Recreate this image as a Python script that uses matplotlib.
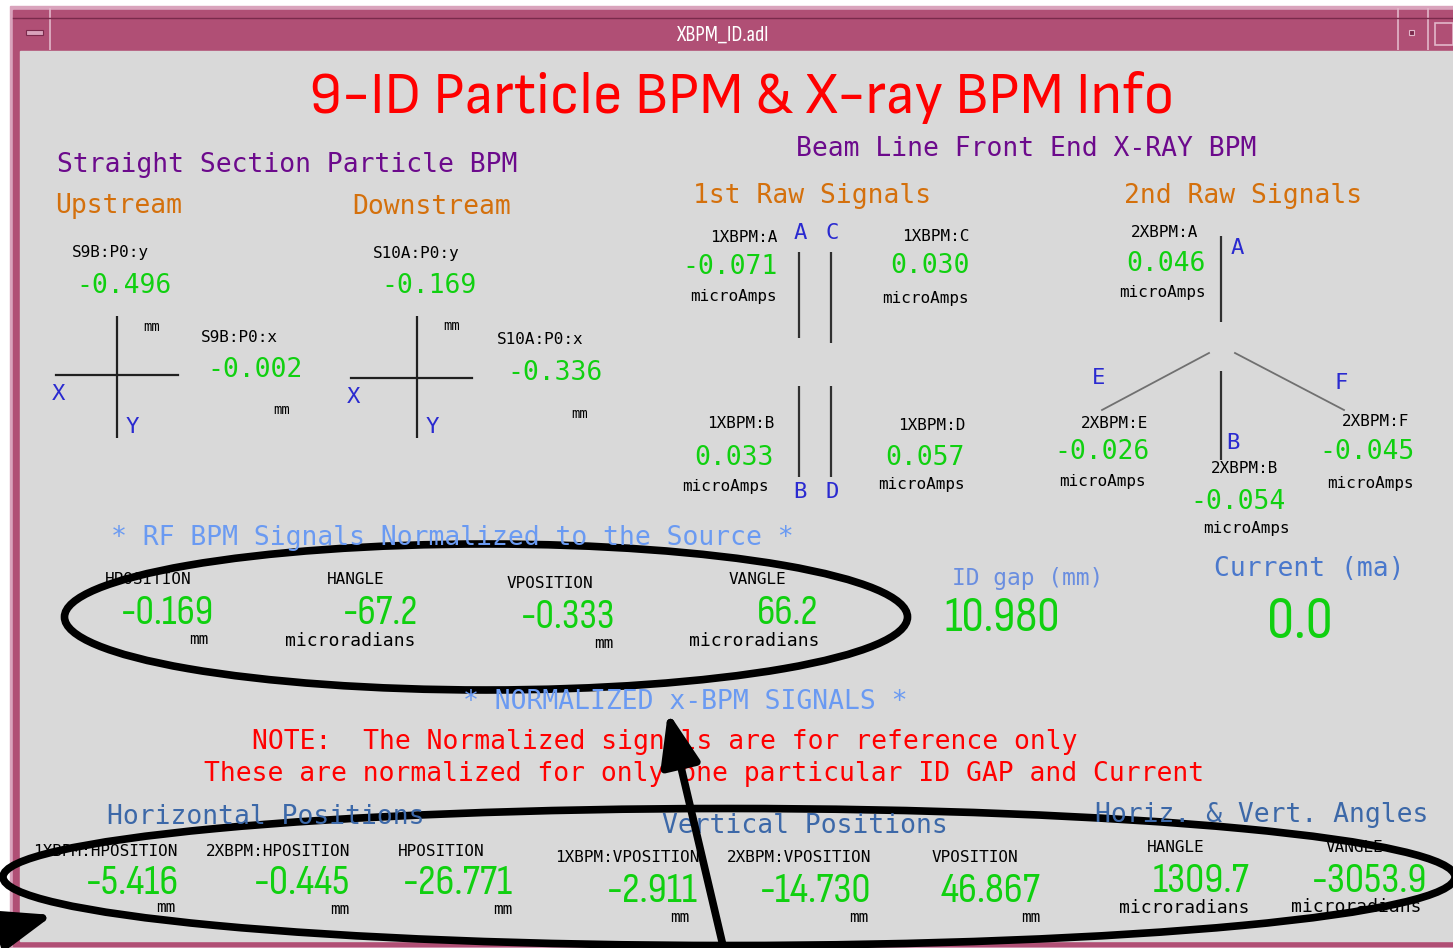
import matplotlib
matplotlib.use("Agg")
import matplotlib.pyplot as plt
from matplotlib.patches import Rectangle, Ellipse

# ---- values shown on the screen ----
particle_labels = ["S9B:P0:y", "S9B:P0:x", "S10A:P0:y", "S10A:P0:x"]
particle_values = [-0.496, -0.002, -0.169, -0.336]

xbpm1_labels = ["1XBPM:A", "1XBPM:C", "1XBPM:B", "1XBPM:D"]
xbpm1_values = [-0.071, 0.030, 0.033, 0.057]

xbpm2_labels = ["2XBPM:A", "2XBPM:E", "2XBPM:B", "2XBPM:F"]
xbpm2_values = [0.046, -0.026, -0.054, -0.045]

rf_labels = ["HPOSITION", "HANGLE", "VPOSITION", "VANGLE"]
rf_values = [-0.169, -67.2, -0.333, 66.2]
rf_units = ["mm", "microradians", "mm", "microradians"]

id_gap = 10.980
current = 0.0

norm_labels = ["1XBPM:HPOSITION", "2XBPM:HPOSITION", "HPOSITION",
               "1XBPM:VPOSITION", "2XBPM:VPOSITION", "VPOSITION",
               "HANGLE", "VANGLE"]
norm_values = [-5.416, -0.445, -26.771, -2.911, -14.730, 46.867, 1309.7, -3053.9]
norm_units = ["mm", "mm", "mm", "mm", "mm", "mm", "microradians", "microradians"]

GRAY = '#d9d9d9'
GREEN = '#10d010'
BLUE = '#2a2ad0'
PURPLE = '#6c0a8c'
ORANGE = '#d4700c'
LBLUE = '#6a9af2'
SBLUE = '#3c68a8'
MONO = 'DejaVu Sans Mono'
NARROW = ['Sofia Sans Condensed', 'DejaVu Sans']

fig = plt.figure(figsize=(14.53, 9.48), dpi=100)
ax = fig.add_axes([0, 0, 1, 1])
ax.set_xlim(0, 1453)
ax.set_ylim(948, 0)
ax.axis('off')


def txt(x, y, s, color='black', size=11.5, ha='left', family=MONO, **kw):
    ax.text(x, y, s, color=color, fontsize=size, ha=ha, va='center', family=family, **kw)


def vline(x, y0, y1, color='#303030', lw=1.6):
    ax.plot([x, x], [y0, y1], color=color, lw=lw, solid_capstyle='butt')


# window frame
ax.add_patch(Rectangle((10, 6), 1443, 942, color='#d9a3bc'))
ax.add_patch(Rectangle((13, 10), 1440, 936, color='#b04f75'))
ax.add_patch(Rectangle((20, 51), 1433, 890, color=GRAY))
for x in (50, 1398, 1428):
    vline(x, 8, 50, color='#e2b7ca', lw=1.2)
ax.plot([13, 1453], [18, 18], color='#7a2a4c', lw=1)
ax.add_patch(Rectangle((26, 30), 17, 5, facecolor='#d9a3bc', edgecolor='#7a2a4c', lw=0.8))
ax.add_patch(Rectangle((1409, 30), 5, 5, facecolor='#7a2a4c', edgecolor='#e2b7ca', lw=0.8))
ax.add_patch(Rectangle((1435, 23), 18, 22, facecolor='none', edgecolor='#e2b7ca', lw=1.2))
txt(722, 35, "XBPM_ID.adl", color='white', size=16, ha='center', family=NARROW)

# title
txt(742, 97, "9-ID Particle BPM & X-ray BPM Info", color='red', size=43.5, ha='center',
    family=['Sofia Sans Semi Condensed', 'DejaVu Sans'])

# straight section particle BPM
txt(57, 165, "Straight Section Particle BPM", color=PURPLE, size=19)
txt(55, 206, "Upstream", color=ORANGE, size=19)
txt(352, 207, "Downstream", color=ORANGE, size=19)

cross = [(117, 375, 56, 178), (417, 378, 351, 472)]
for i, (cx, cy, x0, x1) in enumerate(cross):
    ax.plot([x0, x1], [cy, cy], color='#202020', lw=1.6)
    vline(cx, 316, 438, color='#202020')
    txt(cx + 26, 327 - i, "mm", size=10)
    txt(x0 - 4, cy + 19, "X", color=BLUE, size=16)
    txt(cx + 9, 427, "Y", color=BLUE, size=16)

p_lab_pos = [(72, 252), (201, 338), (373, 253), (497, 339)]
p_val_pos = [(76, 286), (207, 370), (381, 286), (507, 373)]
p_mm_pos = [None, (273, 410), None, (571, 414)]
for lab, v, lp, vp, mp in zip(particle_labels, particle_values, p_lab_pos, p_val_pos, p_mm_pos):
    txt(lp[0], lp[1], lab, size=11.5)
    txt(vp[0], vp[1], f"{v:.3f}", color=GREEN, size=19)
    if mp:
        txt(mp[0], mp[1], "mm", size=10)

# x-ray BPM front end
txt(1026, 149, "Beam Line Front End X-RAY BPM", color=PURPLE, size=19, ha='center')
txt(812, 196, "1st Raw Signals", color=ORANGE, size=19, ha='center')
txt(1243, 196, "2nd Raw Signals", color=ORANGE, size=19, ha='center')

x1_lab = [(777, 237), (969, 236), (774, 423), (965, 425)]
x1_val = [(778, 267), (970, 266), (774, 458), (965, 458)]
x1_unit = [(777, 297), (969, 298), (769, 486), (965, 484)]
for lab, v, lp, vp, up in zip(xbpm1_labels, xbpm1_values, x1_lab, x1_val, x1_unit):
    txt(lp[0], lp[1], lab, size=11.5, ha='right')
    txt(vp[0], vp[1], f"{v:.3f}", color=GREEN, size=19, ha='right')
    txt(up[0], up[1], "microAmps", size=11.5, ha='right')
vline(799, 252, 338)
vline(831, 252, 343)
vline(799, 386, 477)
vline(831, 386, 477)
for s, x, y in [("A", 800, 233), ("C", 832, 233), ("B", 800, 492), ("D", 832, 492)]:
    txt(x, y, s, color=BLUE, size=16, ha='center')

x2_lab = [(1165, 232), (1115, 423), (1245, 468), (1376, 421)]
x2_val = [(1166, 264), (1102, 452), (1238, 502), (1367, 452)]
x2_unit = [(1162, 293), (1102, 481), (1246, 529), (1370, 483)]
for lab, v, lp, vp, up in zip(xbpm2_labels, xbpm2_values, x2_lab, x2_val, x2_unit):
    txt(lp[0], lp[1], lab, size=11.5, ha='center')
    txt(vp[0], vp[1], f"{v:.3f}", color=GREEN, size=19, ha='center')
    txt(up[0], up[1], "microAmps", size=11.5, ha='center')
vline(1221, 236, 322)
vline(1221, 371, 460)
ax.plot([1102, 1209], [410, 353], color='#707070', lw=1.3)
ax.plot([1235, 1344], [353, 410], color='#707070', lw=1.3)
for s, x, y in [("A", 1237, 248), ("E", 1099, 378), ("F", 1341, 383), ("B", 1233, 443)]:
    txt(x, y, s, color=BLUE, size=16, ha='center')

# RF BPM normalized
txt(452, 538, "* RF BPM Signals Normalized to the Source *", color=LBLUE, size=19, ha='center')
rf_lab = [(148, 580), (356, 580), (550, 583), (757, 580)]
rf_val = [(214, 614), (418, 614), (615, 617), (818, 614)]
rf_unit = [(208, 640), (416, 641), (613, 643), (819, 641)]
for lab, v, u, lp, vp, up in zip(rf_labels, rf_values, rf_units, rf_lab, rf_val, rf_unit):
    txt(lp[0], lp[1], lab, size=11.5, ha='center')
    s = f"{v:.3f}" if u == "mm" else f"{v:.1f}"
    txt(vp[0], vp[1], s, color=GREEN, size=30, ha='right', family=NARROW)
    txt(up[0], up[1], u, size=13 if u != "mm" else 11.5, ha='right')

txt(1028, 578, "ID gap (mm)", color='#6a8ee0', size=16.5, ha='center')
txt(1002, 618, f"{id_gap:.3f}", color=GREEN, size=36, ha='center', family=NARROW)
txt(1309, 569, "Current (ma)", color='#4a78cc', size=19, ha='center')
txt(1300, 623, f"{current:.1f}", color=GREEN, size=44, ha='center', family=NARROW,
    weight='bold')

ax.add_patch(Ellipse((486, 617), 843, 146, facecolor='none', edgecolor='black', lw=5.5))

# normalized x-BPM
txt(685, 702, "* NORMALIZED x-BPM SIGNALS *", color=LBLUE, size=19, ha='center')
txt(665, 742, "NOTE:  The Normalized signals are for reference only", color='red', size=19,
    ha='center')
txt(704, 774, "These are normalized for only one particular ID GAP and Current", color='red',
    size=19, ha='center')
txt(266, 817, "Horizontal Positions", color=SBLUE, size=19, ha='center')
txt(805, 826, "Vertical Positions", color=SBLUE, size=19, ha='center')
txt(1262, 815, "Horiz. & Vert. Angles", color=SBLUE, size=19, ha='center')

n_lab = [(105, 851), (278, 851), (441, 851), (627, 858), (799, 858), (975, 858),
         (1176, 848), (1354, 848)]
n_val = [(179, 884), (350, 884), (513, 884), (698, 892), (871, 892), (1041, 892),
         (1249, 882), (1427, 882)]
n_unit = [(175, 908), (349, 910), (512, 910), (689, 917), (868, 917), (1040, 917),
          (1249, 908), (1422, 907)]
for lab, v, u, lp, vp, up in zip(norm_labels, norm_values, norm_units, n_lab, n_val, n_unit):
    txt(lp[0], lp[1], lab, size=11.5, ha='center')
    s = f"{v:.3f}" if u == "mm" else f"{v:.1f}"
    txt(vp[0], vp[1], s, color=GREEN, size=31, ha='right', family=NARROW)
    txt(up[0], up[1], u, size=13 if u != "mm" else 11.5, ha='right')

ax.add_patch(Ellipse((729, 877), 1452, 137, facecolor='none', edgecolor='black', lw=5.5))

# annotation arrows
arrow = dict(arrowstyle='-|>,head_length=1.6,head_width=0.6', color='black', lw=5.5,
             mutation_scale=20, shrinkA=0, shrinkB=0)
ax.annotate("", xy=(668, 712), xytext=(724, 950), arrowprops=arrow, annotation_clip=False)
ax.annotate("", xy=(53, 915), xytext=(-60, 948), arrowprops=arrow, annotation_clip=False)

plt.savefig('out.png', dpi=100)
